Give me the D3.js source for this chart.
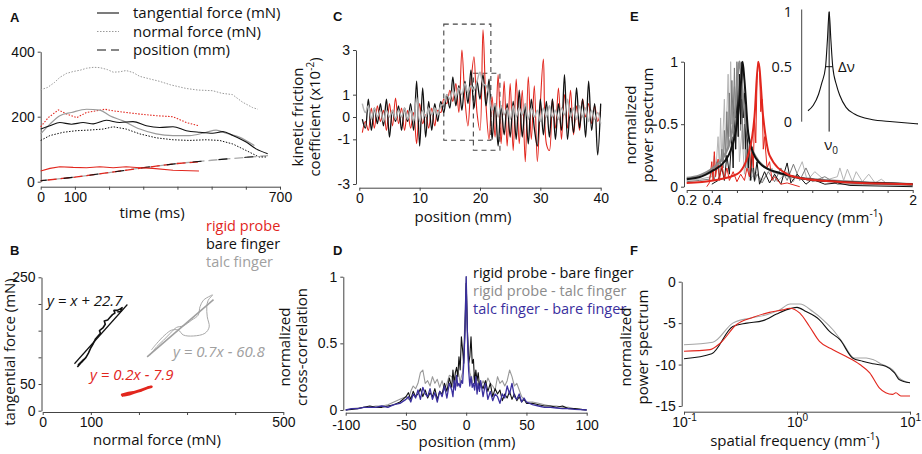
<!DOCTYPE html>
<html>
<head>
<meta charset="utf-8">
<script src="https://cdn.jsdelivr.net/npm/d3@7"></script>
<style>
  body { margin: 0; background: #fff; }
  svg { font-family: "Open Sans", "Noto Sans", sans-serif; }
  .tick text { font-size: 14px; fill: #111; }
  .domain, .tick line { stroke: #444; }
  .label { font-size: 15px; }
  .legend { font-size: 14.5px; }
  .letter { font-family: "Liberation Sans", Arial, sans-serif; font-weight: 700; font-size: 13px; }
</style>
</head>
<body>
<div id="figure"></div>
<script>
// ---------- data ----------

// A: forces and position over time, [ms, value]
const talcNormalA = [[0,283],[20,290],[40,305],[56,321],[75,333],[95,339],[115,343],[134,349],[155,352],[173,351],[195,345],[212,337],[230,338],[250,342],[270,336],[290,324],[320,316],[347,309],[380,298],[425,287],[460,282],[503,280],[530,272],[561,268],[590,245],[620,228],[635,223]];
const rigidNormalA = [[0,169],[22,197],[52,221],[76,208],[105,197],[134,213],[163,218],[188,223],[212,218],[250,213],[290,208],[338,203],[387,200],[426,182],[463,172]];
const talcTangA = [[0,147],[27,177],[56,203],[90,213],[134,223],[173,220],[202,203],[241,187],[290,162],[338,147],[387,142],[435,142],[484,152],[513,159],[542,149],[581,137],[625,111]];
const bareTangA = [[0,162],[27,172],[56,182],[90,177],[124,182],[154,178],[192,189],[231,182],[270,185],[309,172],[348,167],[387,169],[426,157],[465,152],[503,149],[533,154],[562,142],[601,122],[630,101],[664,86]];
const bareNormalA = [[0,127],[27,142],[66,152],[105,157],[144,159],[183,162],[212,169],[250,162],[290,147],[338,135],[387,129],[435,127],[484,129],[523,127],[562,116],[601,96],[639,76],[659,76]];
const rigidTangA = [[0,33],[27,41],[56,46],[95,44],[134,43],[173,46],[212,43],[250,46],[290,43],[328,41],[387,35],[463,33]];
const positionA = [[0,3],[100,14],[200,28],[300,43],[400,56],[500,66],[600,75],[665,80]];
const rigidPositionA = [[0,3],[100,14],[200,28],[300,43],[400,56],[460,61]];
const legendA = ['tangential force (mN)', 'normal force (mN)', 'position (mm)'];

// B: tangential vs normal force, [mN, mN]
const bareB = [[72,82],[78,88],[74,86],[85,96],[80,90],[90,100],[95,108],[100,118],[104,124],[110,135],[115,140],[120,145],[118,150],[125,155],[130,162],[128,168],[135,170],[140,175],[145,180],[150,183],[148,188],[155,188],[160,190],[165,193],[162,186],[155,185]];
const bareFitB = [[66,88],[176,199]];
const talcB = [[223,104],[237,120],[251,132],[265,145],[278,156],[292,159],[310,170],[323,179],[327,195],[334,207],[348,215],[353,217],[344,207],[341,195],[342,176],[346,157],[337,145],[313,140],[292,142],[282,151],[268,151],[254,142],[237,126],[226,114]];
const talcFitB = [[217,101],[355,208]];
const rigidB = [[164,28],[175,31],[185,33],[195,36],[205,39],[215,42],[226,45],[220,44],[210,40],[200,37],[190,34],[180,31],[170,29],[165,30],[178,33],[192,35],[205,38],[218,43]];
const legendB = ['rigid probe', 'bare finger', 'talc finger'];
const fitLabelsB = ['y = x + 22.7', 'y = 0.7x - 60.8', 'y = 0.2x - 7.9'];

// C: kinetic friction coefficient (x10^-2) vs position (mm)
const positionC = [0.5,1,1.5,2,2.5,3,3.5,4,4.5,5,5.5,6,6.5,7,7.5,8,8.5,9,9.5,10,10.5,11,11.5,12,12.5,13,13.5,14,14.5,15,15.5,16,16.5,17,17.5,18,18.5,19,19.5,20,20.5,21,21.5,22,22.5,23,23.5,24,24.5,25,25.5,26,26.5,27,27.5,28,28.5,29,29.5,30,30.5,31,31.5,32,32.5,33,33.5,34,34.5,35,35.5,36,36.5,37,37.5,38,38.5,39,39.5,40];
const rigidC = [-0.7,-0.2,-0.6,0.4,-0.5,0.5,-0.2,0.3,-0.6,0.6, -0.4,0.85,-0.3,0.4,-0.6,0.3,-0.5,0.2,-1.2,0.6, -0.3,0.1,-0.5,0.4,-0.4,0.3,0.2,0.8,0.6,1.2, 0.7,1.5,0.2,3.0,0.8,-0.4,1.5,2.7,0.2,-0.6, 3.9,0.5,-1.0,0.9,-0.9,1.9,-1.2,1.6,-1.3,1.5, -1.5,1.7,-1.2,1.2,-2.0,1.8,-1.0,1.4,-2.0,0.6, 2.6,-1.2,-1.5,0.8,-0.5,1.3,-1.0,1.0,-0.5,1.2, -0.8,0.5,-0.6,0.8,0.0,0.6,-0.3,0.5,-0.2,0.3];
const bareC = [-0.1,-0.5,0.8,-0.6,0.4,-0.3,0.6,-0.4,0.8,-0.9, 0.3,-0.2,0.5,-0.6,0.4,-0.2,0.6,-0.6,1.6,-1.3, 1.3,-0.9,0.7,-0.6,0.6,-0.2,0.7,0.2,1.0,0.4, 1.8,0.5,1.4,0.3,1.6,0.6,2.1,0.4,1.6,0.8, 1.9,0.5,1.7,-1.0,0.6,-1.3,0.5,-0.8,0.6,-0.9, 0.7,-1.0,1.2,-0.9,0.5,-1.2,0.8,-0.5,-1.3,0.8, -0.8,0.7,-0.9,0.8,-1.0,0.6,-0.6,1.9,-1.0,0.4, -0.7,1.3,-0.5,0.8,-0.9,1.6,-0.6,0.6,-1.7,0.6];
const talcC = [0.6,0.2,0.5,-0.1,0.4,0.0,0.3,-0.2,0.3,0.0, 0.3,-0.1,0.3,0.0,0.4,-0.1,0.3,-0.2,0.9,-0.2, 0.3,0.0,0.4,0.1,0.4,0.1,0.5,0.6,1.0,0.8, 1.2,0.9,1.3,1.0,1.5,1.1,1.4,1.2,1.6,2.0, 1.5,1.4,1.0,0.3,0.6,0.0,0.5,0.1,0.4,-0.1, 0.5,0.0,0.4,0.1,0.6,-0.1,0.4,0.0,0.3,-0.2, 0.4,0.0,0.5,0.0,0.3,-0.1,0.4,0.1,0.8,0.0, 0.4,-0.1,0.5,0.0,0.4,-0.2,0.3,-0.1,0.2,-0.3];
// dashed boxes: [x0, x1, yTop, yBottom]
const boxesC = [[14.0, 21.8, 4.16, -1.04], [18.9, 23.3, 1.96, -1.49]];
const yTicksC = [-3, -1, 0, 1, 3];

// D: normalized cross-correlation vs lag (mm)
const lagD = [-100,-95,-90,-85,-80,-75,-70,-65,-60,-55, -50,-48,-46,-44,-42,-40,-38,-36,-34,-32,-30,-28,-26,-24,-22,-20,-18,-16,-14,-12, -11,-10,-9,-8,-7,-6,-5,-4,-3,-2,-1,0,1,2,3,4,5,6,7,8,9,10,11, 12,14,16,18,20,22,24,26,28,30,32,34,36,38,40,42,44,46,48,50, 55,60,65,70,75,80,85,90,95,100];
const talcBareD = [0,0.01,0.01,0.02,0.02,0.02,0.03,0.02,0.04,0.05, 0.08,0.1,0.06,0.12,0.09,0.15,0.08,0.17,0.12,0.1,0.16,0.08,0.13,0.06,0.14,0.1,0.18,0.09,0.2,0.15, 0.1,0.22,0.15,0.26,0.18,0.2,0.17,0.22,0.2,0.35,0.6,1.0,0.55,0.3,0.18,0.25,0.17,0.2,0.15,0.25,0.12,0.2,0.14, 0.22,0.1,0.2,0.08,0.14,0.07,0.12,0.1,0.05,0.12,0.09,0.18,0.12,0.2,0.1,0.08,0.12,0.06,0.09,0.06, 0.04,0.03,0.02,0.02,0.015,0.01,0.01,0.005,0.003,0];
const rigidBareD = [0,0.005,0.01,0.02,0.03,0.02,0.02,0.03,0.04,0.06, 0.1,0.13,0.08,0.14,0.1,0.12,0.16,0.1,0.15,0.09,0.13,0.1,0.16,0.08,0.14,0.12,0.2,0.14,0.24,0.17, 0.3,0.2,0.28,0.32,0.25,0.4,0.3,0.55,0.45,0.35,0.6,0.95,0.6,0.35,0.4,0.55,0.35,0.38,0.2,0.3,0.22,0.28,0.18, 0.2,0.16,0.22,0.14,0.2,0.1,0.16,0.12,0.15,0.07,0.12,0.09,0.14,0.08,0.12,0.07,0.1,0.06,0.08,0.05, 0.05,0.04,0.03,0.03,0.02,0.03,0.01,0.01,0.005,0];
const rigidTalcD = [0,0.01,0.015,0.02,0.02,0.03,0.03,0.04,0.06,0.08, 0.1,0.08,0.14,0.18,0.16,0.2,0.28,0.3,0.2,0.22,0.18,0.25,0.2,0.23,0.17,0.22,0.15,0.2,0.26,0.25, 0.22,0.2,0.25,0.18,0.3,0.26,0.2,0.25,0.28,0.45,0.7,1.0,0.6,0.4,0.28,0.25,0.2,0.25,0.28,0.2,0.15,0.22,0.2, 0.17,0.22,0.18,0.24,0.2,0.18,0.15,0.25,0.2,0.22,0.18,0.22,0.3,0.25,0.18,0.2,0.15,0.1,0.08,0.06, 0.06,0.05,0.04,0.03,0.03,0.02,0.02,0.01,0.005,0];
const legendD = ['rigid probe - bare finger', 'rigid probe - talc finger', 'talc finger - bare finger'];

// E: normalized power spectrum, [mm^-1, value]
const talcSpecE1 = [[0.2,0.04],[0.3,0.05],[0.38,0.06],[0.4,0.12],[0.42,0.05],[0.44,0.2],[0.46,0.08],[0.48,0.3],[0.49,0.15],[0.5,0.45],[0.51,0.2],[0.52,0.6],[0.53,0.3],[0.54,0.75],[0.55,0.4],[0.56,0.85],[0.57,0.5],[0.58,0.95],[0.59,0.55],[0.6,1.0],[0.61,0.6],[0.62,0.9],[0.63,0.45],[0.64,0.7],[0.65,0.3],[0.66,0.5],[0.67,0.15],[0.68,0.3],[0.7,0.08],[0.72,0.15],[0.74,0.04],[0.76,0.1],[0.8,0.03],[0.85,0.12],[0.9,0.04],[0.95,0.15],[1.0,0.05],[1.05,0.18],[1.1,0.05],[1.15,0.15],[1.2,0.04],[1.3,0.08],[1.4,0.02],[1.6,0.02],[2.0,0.01]];
const talcSpecE2 = [[0.2,0.05],[0.3,0.06],[0.4,0.08],[0.42,0.25],[0.43,0.1],[0.45,0.4],[0.46,0.15],[0.47,0.55],[0.48,0.2],[0.5,0.7],[0.51,0.3],[0.53,0.9],[0.54,0.4],[0.55,1.0],[0.56,0.5],[0.58,0.8],[0.59,0.3],[0.61,0.65],[0.62,0.2],[0.64,0.45],[0.66,0.1],[0.68,0.25],[0.7,0.05],[0.75,0.12],[0.8,0.05],[0.88,0.15],[0.92,0.04],[1.0,0.12],[1.05,0.04],[1.12,0.2],[1.16,0.05],[1.22,0.12],[1.3,0.05],[1.4,0.08],[1.42,0.15],[1.45,0.05],[1.48,0.14],[1.52,0.04],[1.55,0.12],[1.6,0.04],[1.65,0.1],[1.7,0.03],[1.75,0.06],[1.8,0.02],[1.9,0.02],[2.0,0.01]];
const bareSpecE = [[0.4,0.02],[0.45,0.05],[0.48,0.15],[0.5,0.05],[0.52,0.25],[0.54,0.1],[0.56,0.4],[0.57,0.15],[0.58,0.6],[0.59,0.3],[0.6,0.8],[0.61,0.4],[0.62,0.9],[0.63,0.5],[0.64,1.0],[0.65,0.55],[0.66,0.75],[0.67,0.3],[0.68,0.55],[0.69,0.15],[0.7,0.35],[0.71,0.05],[0.72,0.32],[0.74,0.05],[0.76,0.2],[0.78,0.02],[0.82,0.12],[0.86,0.03],[0.9,0.1],[0.95,0.02],[1.0,0.19],[1.03,0.03],[1.08,0.1],[1.15,0.02],[1.2,0.06],[1.3,0.02],[1.4,0.03],[1.5,0.01],[2.0,0.0]];
const rigidSpecE = [[0.36,0.0],[0.38,0.03],[0.4,0.2],[0.41,0.05],[0.42,0.28],[0.43,0.08],[0.45,0.22],[0.46,0.05],[0.48,0.18],[0.5,0.06],[0.52,0.15],[0.54,0.05],[0.57,0.12],[0.6,0.04],[0.63,0.1],[0.66,0.05],[0.68,0.15],[0.7,0.08],[0.72,0.3],[0.73,0.15],[0.74,0.55],[0.75,0.35],[0.76,0.85],[0.77,1.0],[0.78,0.95],[0.79,0.6],[0.8,0.7],[0.81,0.3],[0.82,0.4],[0.84,0.15],[0.86,0.2],[0.88,0.05],[0.9,0.08],[0.95,0.02],[1.0,0.03],[1.1,0.0]];
const talcFitE = [[0.2,0.07],[0.3,0.09],[0.41,0.15],[0.5,0.25],[0.55,0.38],[0.59,0.65],[0.62,1.0],[0.65,0.7],[0.69,0.4],[0.75,0.24],[0.85,0.14],[1.0,0.09],[1.2,0.06],[1.5,0.04],[2.0,0.02]];
const bareFitE = [[0.2,0.06],[0.3,0.075],[0.41,0.13],[0.5,0.2],[0.55,0.29],[0.6,0.5],[0.63,0.8],[0.645,1.0],[0.66,0.85],[0.69,0.43],[0.73,0.27],[0.78,0.19],[0.85,0.14],[0.94,0.11],[1.1,0.07],[1.4,0.04],[1.7,0.03],[2.0,0.02]];
const rigidFitE = [[0.2,0.03],[0.41,0.05],[0.6,0.1],[0.7,0.29],[0.74,0.56],[0.77,1.0],[0.81,0.55],[0.86,0.25],[1.0,0.1],[1.1,0.07],[1.4,0.04],[2.0,0.02]];
// inset: peak shape, [offset from v0, value]
const insetE = [[-1,0.1],[-0.75,0.15],[-0.5,0.25],[-0.35,0.35],[-0.17,0.5],[-0.08,0.75],[0,1],[0.08,0.75],[0.17,0.5],[0.35,0.33],[0.5,0.24],[0.8,0.13],[1.2,0.07],[2,0.02],[3,0.0],[4.2,-0.02]];
const halfWidthE = [-0.17, 0.17];

// F: log power spectrum, [mm^-1, value]
const talcF = [[0.1,-7.6],[0.18,-7.3],[0.27,-5],[0.38,-4.4],[0.54,-4],[0.7,-3.4],[0.87,-2.7],[1.06,-2.7],[1.38,-3.6],[1.7,-4.6],[2.08,-5.8],[2.55,-7.4],[3.2,-9.2],[4.1,-9.2],[4.7,-9.4],[5.7,-10],[7.0,-10.6],[8.0,-11.6],[10,-12.2]];
const bareF = [[0.1,-9.3],[0.176,-8.7],[0.27,-5.4],[0.36,-5],[0.5,-4.7],[0.66,-3.9],[0.8,-3.4],[1.0,-3.1],[1.2,-3.6],[1.58,-4.6],[1.94,-6.0],[2.4,-7.0],[3.1,-9.2],[3.8,-9.6],[4.7,-9.9],[6.1,-10.2],[7.3,-11],[8,-11.8],[10,-12.2]];
const rigidF = [[0.1,-8.4],[0.17,-8.2],[0.21,-7.4],[0.29,-5.2],[0.41,-4.3],[0.57,-3.7],[0.75,-3.4],[0.86,-3.2],[1.06,-3.8],[1.29,-5.4],[1.58,-7.2],[2.08,-8.2],[2.7,-9],[3.6,-10],[4.4,-11],[5.35,-12.8],[6.1,-13.4],[7,-13.6],[7.5,-13.4],[8.3,-13.8],[10,-13.8]];

// ---------- drawing ----------
const RED = '#e2261d', GRAY = '#9a9a9a', BLACK = '#111', BLUE = '#3a2f9e';
const width = 922, height = 454;

const svg = d3.select('#figure')
  .append('svg')
    .attr('viewBox', [0, 0, width, height])
    .attr('width', width)
    .attr('height', height);

// draw one polyline through the scales
const drawLine = (x, y, data, color, w, opts = {}) => {
  const gen = d3.line().x(d => x(d[0])).y(d => y(d[1]));
  if (opts.curve) gen.curve(opts.curve);
  svg.append('path')
    .datum(data)
    .attr('fill', 'none')
    .attr('stroke', color)
    .attr('stroke-width', w)
    .attr('stroke-linejoin', 'round')
    .attr('stroke-dasharray', opts.dash || null)
    .attr('stroke-dashoffset', opts.offset || 0)
    .attr('d', gen);
};

// axes with outward short ticks, labels only where the figure shows them
const axisLeft = (scale, xPos, ticks, labels) => {
  svg.append('g')
    .attr('transform', `translate(${xPos},0)`)
    .call(d3.axisLeft(scale).tickValues(ticks).tickSizeInner(3).tickSizeOuter(0).tickPadding(3)
      .tickFormat(d => labels.includes(d) ? String(d) : ''));
};
const axisBottom = (scale, yPos, ticks, labels, pad = 2) => {
  return svg.append('g')
    .attr('transform', `translate(0,${yPos})`)
    .call(d3.axisBottom(scale).tickValues(ticks).tickSizeInner(3).tickSizeOuter(0).tickPadding(pad)
      .tickFormat(d => labels.includes(d) ? String(d) : ''));
};

const text = (x, y, str, opts = {}) => svg.append('text')
  .attr('class', opts.cls || 'label')
  .attr('x', x).attr('y', y)
  .attr('dy', '0.35em')
  .attr('text-anchor', opts.anchor || 'start')
  .style('fill', opts.fill || '#111')
  .style('font-style', opts.italic ? 'italic' : null)
  .text(str);

// rotated axis title, one tspan per line
const yTitle = (x, y, lines) => {
  const t = svg.append('text')
    .attr('class', 'label')
    .attr('transform', `translate(${x},${y}) rotate(-90)`)
    .attr('text-anchor', 'middle')
    .style('fill', '#111');
  lines.forEach((l, i) => {
    t.append('tspan').attr('x', 0).attr('dy', i === 0 ? 0 : 17).text(l);
  });
  return t;
};

// superscript helper for "(mm-1)"
const withSup = (sel, before, sup, after) => {
  sel.append('tspan').text(before);
  sel.append('tspan').attr('dy', -6).style('font-size', '10px').text(sup);
  if (after) sel.append('tspan').attr('dy', 6).text(after);
};

// panel letters
[['A', 10, 17], ['B', 10, 250], ['C', 333, 16], ['D', 333, 250], ['E', 630, 16], ['F', 630, 250]]
  .forEach(([l, x, y]) => text(x, y, l, { cls: 'letter' }));

// ===== A =====
const xA = d3.scaleLinear().domain([0, 700]).range([40.7, 280]);
const yA = d3.scaleLinear().domain([0, 400]).range([181.7, 51.7]);
axisLeft(yA, 40.7, [0, 200, 400], [0, 200, 400]);
axisBottom(xA, 186.7, [0, 100, 200, 300, 400, 500, 600, 700], [0, 100, 700]);
text(152, 213, 'time (ms)', { anchor: 'middle' });

drawLine(xA, yA, positionA, '#aaa', 1.3, { dash: '9,4' });
drawLine(xA, yA, rigidPositionA, RED, 1.3, { dash: '9,4', offset: 6 });
drawLine(xA, yA, positionA, BLACK, 1.1, { dash: '9,17', offset: 3 });
drawLine(xA, yA, talcNormalA, GRAY, 1, { dash: '1.5,1.5' });
drawLine(xA, yA, rigidNormalA, RED, 1.1, { dash: '1.5,1.5' });
drawLine(xA, yA, bareNormalA, BLACK, 1, { dash: '1.5,1.5' });
drawLine(xA, yA, talcTangA, GRAY, 1.2, { curve: d3.curveMonotoneX });
drawLine(xA, yA, bareTangA, BLACK, 1.1, { curve: d3.curveMonotoneX });
drawLine(xA, yA, rigidTangA, RED, 1.1);

// legend A
const legendDash = [null, '1.5,1.5', '9,5'];
const legendColor = [BLACK, GRAY, BLACK];
legendA.forEach((l, i) => {
  const yy = 13 + i * 18.5;
  svg.append('line')
    .attr('x1', 97).attr('x2', 119).attr('y1', yy).attr('y2', yy)
    .attr('stroke', legendColor[i]).attr('stroke-width', 1.1)
    .attr('stroke-dasharray', legendDash[i]);
  text(133, yy, l);
});

// ===== B =====
const xB = d3.scaleLinear().domain([0, 500]).range([42.7, 283.3]);
const yB = d3.scaleLinear().domain([0, 250]).range([410.7, 277.3]);
axisLeft(yB, 41.5, [0, 50, 100, 150, 200, 250], [0, 50, 250]);
axisBottom(xB, 412, [0, 100, 200, 300, 400, 500], [0, 100, 500]);
yTitle(15, 352, ['tangential force (mN)']);
text(157, 440, 'normal force (mN)', { anchor: 'middle' });

drawLine(xB, yB, talcB, '#a8a8a8', 1, { curve: d3.curveCatmullRom });
drawLine(xB, yB, talcFitB, '#a0a0a0', 1.6);
drawLine(xB, yB, bareB, BLACK, 1.6);
drawLine(xB, yB, bareFitB, BLACK, 1.2);
drawLine(xB, yB, rigidB, RED, 2.6);

const fitColors = [BLACK, '#a0a0a0', RED];
const fitPos = [[47, 301], [173, 352], [90, 375]];
fitLabelsB.forEach((l, i) => text(fitPos[i][0], fitPos[i][1], l, { fill: fitColors[i], italic: true }));

const legendBColor = [RED, BLACK, '#a0a0a0'];
legendB.forEach((l, i) => text(206, 226 + i * 18, l, { fill: legendBColor[i], cls: 'legend' }));

// ===== C =====
const xC = d3.scaleLinear().domain([0, 40]).range([359.3, 600.7]);
const yC = d3.scaleLinear().domain([-3, 3]).range([184, 50]);
axisLeft(yC, 356, yTicksC, yTicksC);
axisBottom(xC, 187.7, [0, 10, 20, 30, 40], [0, 10, 20, 30, 40]);
text(463, 217, 'position (mm)', { anchor: 'middle' });
const tc = yTitle(303, 117, ['kinetic friction']);
tc.append('tspan').attr('x', 0).attr('dy', 17).text('coefficient (x10');
tc.append('tspan').attr('dy', -6).style('font-size', '10px').text('-2');
tc.append('tspan').attr('dy', 6).text(')');

boxesC.forEach(b => {
  svg.append('rect')
    .attr('x', xC(b[0])).attr('y', yC(b[2]))
    .attr('width', xC(b[1]) - xC(b[0])).attr('height', yC(b[3]) - yC(b[2]))
    .attr('fill', 'none').attr('stroke', '#444').attr('stroke-width', 1.1)
    .attr('stroke-dasharray', '5,4');
});
const zipC = vals => positionC.map((p, i) => [p, vals[i]]);
drawLine(xC, yC, zipC(rigidC), RED, 1.1, { curve: d3.curveCatmullRom });
drawLine(xC, yC, zipC(bareC), BLACK, 1.3, { curve: d3.curveCatmullRom });
drawLine(xC, yC, zipC(talcC), '#b3b3b3', 1.5, { curve: d3.curveCatmullRom });

// ===== D =====
const xD = d3.scaleLinear().domain([-100, 100]).range([345.7, 586.7]);
const yD = d3.scaleLinear().domain([0, 1]).range([410, 276.7]);
axisLeft(yD, 343.3, [0, 0.5, 1], [0, 0.5, 1]);
axisBottom(xD, 412.7, [-100, -50, 0, 50, 100], [-100, -50, 0, 50, 100], 4);
text(467, 442, 'position (mm)', { anchor: 'middle' });
yTitle(290, 347, ['normalized', 'cross-correlation']);
const zipD = vals => lagD.map((p, i) => [p, vals[i]]);
drawLine(xD, yD, zipD(rigidTalcD), '#999', 1.1);
drawLine(xD, yD, zipD(rigidBareD), BLACK, 1.1);
drawLine(xD, yD, zipD(talcBareD), BLUE, 1.3);
const legendDColor = [BLACK, '#8c8c8c', BLUE];
legendD.forEach((l, i) => text(473, 273 + i * 18, l, { fill: legendDColor[i], cls: 'legend' }));

// ===== E =====
const xE = d3.scaleLinear().domain([0.2, 2]).range([686.7, 912.7]);
const yE = d3.scaleLinear().domain([0, 1]).range([186.7, 61.7]);
axisLeft(yE, 684, [0, 0.5, 1], [0, 0.5, 1]);
axisBottom(xE, 190, [0.2, 0.4, 0.6, 0.8, 1, 1.2, 1.4, 1.6, 1.8, 2], [0.2, 0.4, 2]);
const te = svg.append('text').attr('class', 'label').attr('x', 798).attr('y', 218)
  .attr('dy', '0.35em').attr('text-anchor', 'middle').style('fill', '#111');
withSup(te, 'spatial frequency (mm', '-1', ')');
yTitle(636, 125, ['normalized', 'power spectrum']);

drawLine(xE, yE, talcSpecE2, '#b5b5b5', 1);
drawLine(xE, yE, talcSpecE1, '#7a7a7a', 1);
drawLine(xE, yE, bareSpecE, BLACK, 1);
drawLine(xE, yE, rigidSpecE, RED, 1);
drawLine(xE, yE, talcFitE, '#8a8a8a', 2.2, { curve: d3.curveMonotoneX });
drawLine(xE, yE, bareFitE, BLACK, 2, { curve: d3.curveMonotoneX });
drawLine(xE, yE, rigidFitE, RED, 2, { curve: d3.curveMonotoneX });

// inset
const xIn = d3.scaleLinear().domain([-1, 4.2]).range([808, 918]);
const yIn = d3.scaleLinear().domain([0, 1]).range([121.7, 11.7]);
svg.append('line').attr('x1', 801.7).attr('x2', 801.7).attr('y1', yIn(1.02)).attr('y2', yIn(0))
  .attr('stroke', '#444');
[0, 0.5, 1].forEach(v => text(792, yIn(v), String(v), { anchor: 'end', cls: 'legend' }));
drawLine(xIn, yIn, insetE, BLACK, 1.1, { curve: d3.curveMonotoneX });
svg.append('line').attr('x1', xIn(0)).attr('x2', xIn(0)).attr('y1', yIn(1)).attr('y2', yIn(-0.09))
  .attr('stroke', BLACK).attr('stroke-width', 1);
svg.append('line').attr('x1', xIn(halfWidthE[0])).attr('x2', xIn(halfWidthE[1]))
  .attr('y1', yIn(0.5)).attr('y2', yIn(0.5)).attr('stroke', BLACK);
text(838, yIn(0.5), 'Δν');
const nu = svg.append('text').attr('class', 'label').attr('x', xIn(0) - 5).attr('y', 145)
  .attr('dy', '0.35em').style('fill', '#111');
nu.append('tspan').text('ν');
nu.append('tspan').attr('dy', 4).style('font-size', '10px').text('0');

// ===== F =====
const xF = d3.scaleLog().domain([0.1, 10]).range([684, 910]);
const yF = d3.scaleLinear().domain([-15, 0]).range([406, 281.7]);
axisLeft(yF, 681.7, [-15, -10, -5, 0], [-15, -10, -5, 0]);
const fAxis = axisBottom(xF, 411.7, [0.1, 1, 10], []);
const expF = { 0.1: '-1', 1: '0', 10: '1' };
fAxis.selectAll('.tick text').each(function (d) {
  const t = d3.select(this);
  t.append('tspan').text('10');
  t.append('tspan').attr('dy', -6).style('font-size', '10px').text(expF[d]);
});
const tf = svg.append('text').attr('class', 'label').attr('x', 795).attr('y', 441)
  .attr('dy', '0.35em').attr('text-anchor', 'middle').style('fill', '#111');
withSup(tf, 'spatial frequency (mm', '-1', ')');
yTitle(631, 347, ['normalized', 'power spectrum']);

drawLine(xF, yF, talcF, '#a5a5a5', 1.1, { curve: d3.curveMonotoneX });
drawLine(xF, yF, bareF, BLACK, 1.1, { curve: d3.curveMonotoneX });
drawLine(xF, yF, rigidF, RED, 1.1, { curve: d3.curveMonotoneX });
</script>
</body>
</html>
